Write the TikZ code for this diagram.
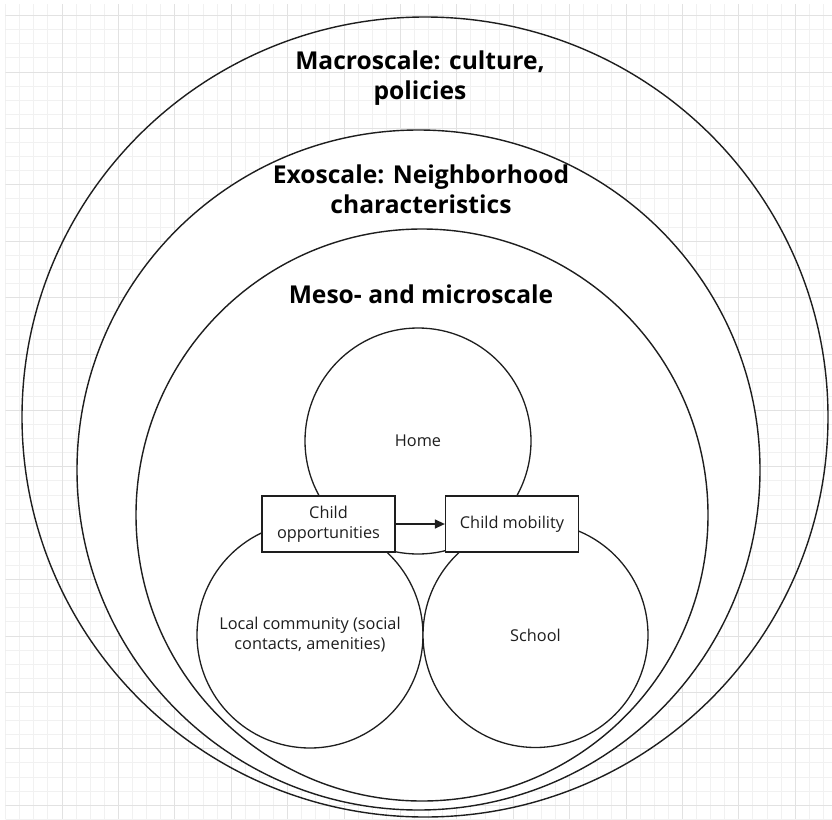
\documentclass[tikz,border=0pt]{standalone}
\usepackage{fontspec}
\setmainfont{Open Sans}
\usetikzlibrary{arrows.meta,shapes.geometric}
\definecolor{gridminor}{HTML}{F1F1F1}
\definecolor{gridmajor}{HTML}{E2E2E2}
\definecolor{inkline}{HTML}{1E1E1E}
\begin{document}
\begin{tikzpicture}[x=1pt,y=-1pt,
  minorline/.style={draw=gridminor,line width=1pt},
  majorline/.style={draw=gridmajor,line width=1pt},
  ring/.style={ellipse,draw=inkline,line width=1.4pt,inner sep=0pt},
  zone/.style={circle,draw=inkline,line width=1.3pt,fill=white,inner sep=0pt,minimum size=226pt,
    align=center,font=\fontsize{16.3}{20}\selectfont,text=inkline},
  title/.style={align=center,font=\fontsize{24.6}{30}\selectfont\bfseries,text=black},
  boxnode/.style={rectangle,draw=inkline,line width=1.3pt,fill=white,minimum width=133pt,minimum height=56pt,
    inner sep=0pt,align=center,font=\fontsize{16.3}{20}\selectfont,text=inkline},
  link/.style={draw=inkline,line width=1.3pt,-{Triangle[length=10pt,width=9pt]}}]
\useasboundingbox (0,0) rectangle (832,819);
\fill[white] (0,0) rectangle (832,819);
\begin{scope}
  \clip (5.6,4) rectangle (832,819);
  \foreach \i in {0,...,59} \draw[minorline] ({5.6+14.1*\i},0) -- ++(0,819);
  \foreach \j in {0,...,58} \draw[minorline] (0,{1.5+14.1*\j}) -- ++(832,0);
  \foreach \i in {0,...,14} \draw[majorline] ({5.6+56.4*\i},0) -- ++(0,819);
  \foreach \j in {0,...,14} \draw[majorline] (0,{15.6+56.4*\j}) -- ++(832,0);
\end{scope}
% nested scales
\node[ring,minimum width=806pt,minimum height=800pt] (macro) at (425,417) {};
\node[ring,fill=white,minimum width=683pt,minimum height=680pt] (exo) at (418.5,470) {};
\node[ring,fill=white,minimum width=572pt,minimum height=572pt] (meso) at (422,515) {};
\node[title] (macrolabel) at (420,78) {Macroscale: culture,\\policies};
\node[title] (exolabel) at (421,189) {Exoscale: Neighborhood\\characteristics};
\node[title] (mesolabel) at (421,294) {Meso- and microscale};
% settings
\node[zone] (home) at (418,441) {Home};
\node[zone] (local) at (310,635) {Local community (social\\contacts, amenities)};
\node[zone,minimum size=225pt] (school) at (535.5,635) {School};
% boxes
\node[boxnode] (opp) at (328.5,524) {Child\\opportunities};
\node[boxnode] (mob) at (512,524) {Child mobility};
\draw[link] (opp.east) -- (mob.west);
\end{tikzpicture}
\end{document}
